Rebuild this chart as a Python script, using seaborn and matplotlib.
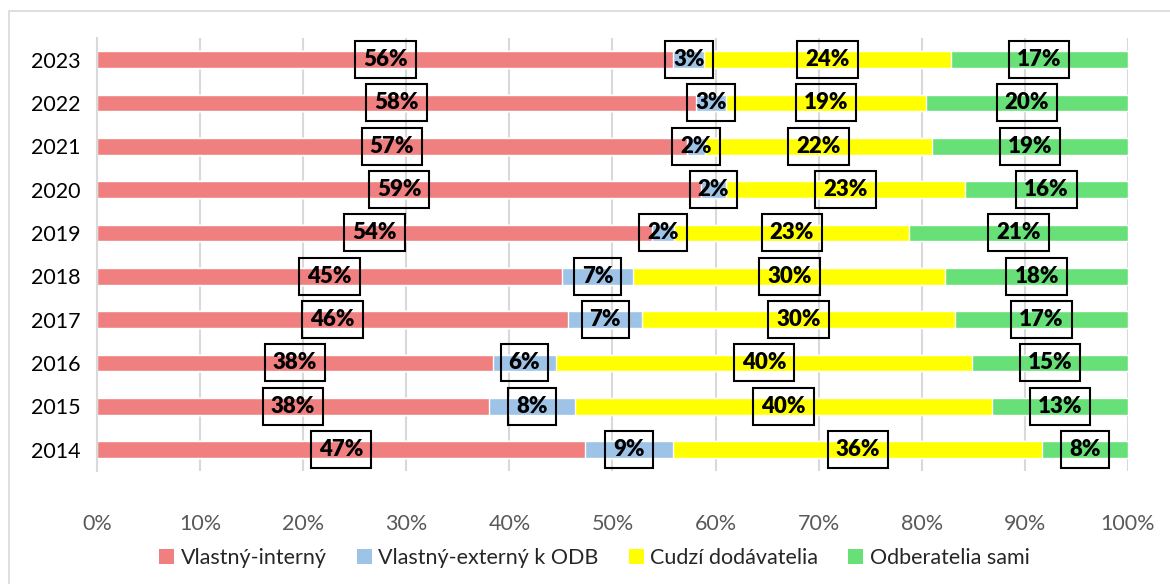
import numpy as np
import pandas as pd
import matplotlib
matplotlib.use("Agg")
import matplotlib.pyplot as plt
import seaborn as sns
from matplotlib.patches import Rectangle, Patch

# Share of each source per year (percent)
years = ['2023', '2022', '2021', '2020', '2019', '2018', '2017', '2016', '2015', '2014']
series_names = ['Vlastný-interný', 'Vlastný-externý k ODB', 'Cudzí dodávatelia', 'Odberatelia sami']
vlastny_interny = [55.9, 58.1, 57.2, 58.6, 53.8, 45.1, 45.7, 38.4, 38.0, 47.3]
vlastny_externy = [3.0, 2.9, 1.8, 2.4, 2.2, 6.9, 7.2, 6.1, 8.4, 8.6]
cudzi_dodavatelia = [23.9, 19.4, 22.0, 23.2, 22.8, 30.3, 30.3, 40.4, 40.4, 35.8]
odberatelia_sami = [17.2, 19.6, 19.0, 15.8, 21.2, 17.7, 16.8, 15.1, 13.2, 8.3]
colors = ['#F08080', '#9DC3E6', '#FFFF00', '#66E077']

df = pd.DataFrame({
    'year': years,
    series_names[0]: vlastny_interny,
    series_names[1]: vlastny_externy,
    series_names[2]: cudzi_dodavatelia,
    series_names[3]: odberatelia_sami,
})

sns.set_theme(style="white")
plt.rcParams['font.family'] = ['Lato', 'DejaVu Sans']

fig = plt.figure(figsize=(11.7, 5.84), dpi=100)
ax = fig.add_axes([0.083, 0.193, 0.881, 0.742])

# stacked bars: draw cumulative totals from the back to the front
cum = df[series_names].cumsum(axis=1)
for name, col in reversed(list(zip(series_names, colors))):
    sns.barplot(x=cum[name], y=df['year'], orient='h', color=col, width=0.39,
                saturation=1, ax=ax, zorder=2)

# value labels in transparent boxes
for i in range(len(years)):
    left = 0
    for name in series_names:
        v = df[name].iloc[i]
        ax.text(left + v / 2, i, f"{round(v):.0f}%", ha='center', va='center',
                fontsize=16, fontweight='heavy', color='black', zorder=4,
                bbox=dict(boxstyle='square,pad=0.36', facecolor='none',
                          edgecolor='black', linewidth=1.5))
        left += v

ax.set_xlim(0, 100)
ax.set_ylim(len(years) - 0.5, -0.5)
ax.set_xticks(np.arange(0, 101, 10))
ax.set_xticklabels([f"{t}%" for t in range(0, 101, 10)])
ax.xaxis.grid(True, color='#D9D9D9', linewidth=1.5, zorder=0)
ax.set_axisbelow(True)
ax.set_xlabel('')
ax.set_ylabel('')
for s in ['top', 'right', 'bottom']:
    ax.spines[s].set_visible(False)
ax.spines['left'].set_color('#D9D9D9')
ax.spines['left'].set_linewidth(1.5)
ax.tick_params(axis='x', colors='#595959', labelsize=15.5, length=0, pad=31)
ax.tick_params(axis='y', colors='black', labelsize=15.5, length=0, pad=12)
for lbl in ax.get_xticklabels():
    lbl.set_color('#595959')

handles = [Patch(facecolor=c, edgecolor='none', label=n) for n, c in zip(series_names, colors)]
fig.legend(handles=handles, loc='center', bbox_to_anchor=(0.508, 0.045), ncol=4,
           frameon=False, fontsize=15.5, handlelength=0.7, handleheight=0.7,
           handletextpad=0.3, columnspacing=1.4, labelcolor='#262626')

# light outer frame of the chart area
fig.patches.append(Rectangle((9 / 1170, -0.02), 1.1, 1 - 11 / 584 + 0.02,
                             transform=fig.transFigure, fill=False,
                             edgecolor='#D9D9D9', linewidth=1.2))

fig.savefig('out.png', dpi=100)
